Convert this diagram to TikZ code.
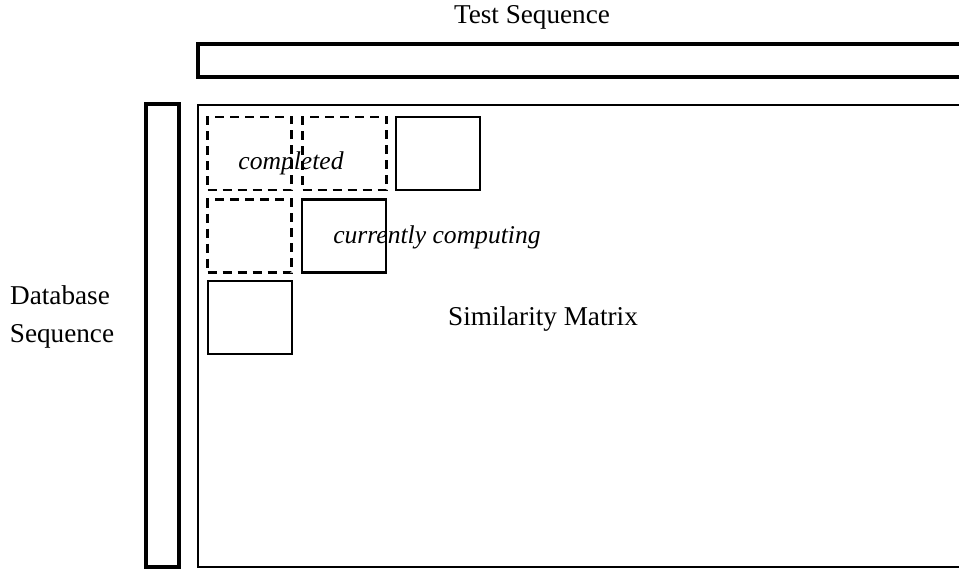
\documentclass[tikz,border=0pt]{standalone}
\usepackage{fontspec}
\setmainfont{Liberation Serif}
\usepackage{tikz}
\usetikzlibrary{positioning}

\begin{document}
\begin{tikzpicture}[
  x=0.5pt,y=-0.5pt,
  seqbar/.style={draw,line width=2pt},
  cell/.style={rectangle,draw,line width=1.2pt,minimum width=42pt,minimum height=36.5pt,inner sep=0pt},
  donecell/.style={cell,dashed,dash pattern=on 4.5pt off 3pt},
  lbl/.style={font=\fontsize{13.6}{18}\selectfont,inner sep=0pt,anchor=base},
  ilbl/.style={lbl,font=\fontsize{12.8}{18}\selectfont\itshape}
]
  \useasboundingbox (0,0) rectangle (959,569);
  \clip (0,0) rectangle (959,569);
  % sequences and matrix
  \draw[seqbar] (198,44) rectangle (990,77);
  \draw[seqbar] (146,104) rectangle (179,567);
  \draw[line width=1.2pt] (198,105) rectangle (990,567);
  \node[lbl] (test) at (532,23) {Test Sequence};
  \node[lbl] (dbA) at (60,304) {Database};
  \node[lbl] (dbB) at (62,342) {Sequence};
  % cells
  \node[donecell] (c11) at (249.5,153.5) {};
  \node[donecell] (c12) at (344.5,153.5) {};
  \node[cell] (c13) at (438,153.5) {};
  \node[donecell] (c21) at (249.5,236) {};
  \node[cell] (c22) at (344,236) {};
  \node[cell] (c31) at (250,317.5) {};
  \node[ilbl] (done) at (291,169) {completed};
  \node[ilbl] (cur) at (437,243) {currently computing};
  \node[lbl] (sim) at (543,325) {Similarity Matrix};
\end{tikzpicture}
\end{document}
